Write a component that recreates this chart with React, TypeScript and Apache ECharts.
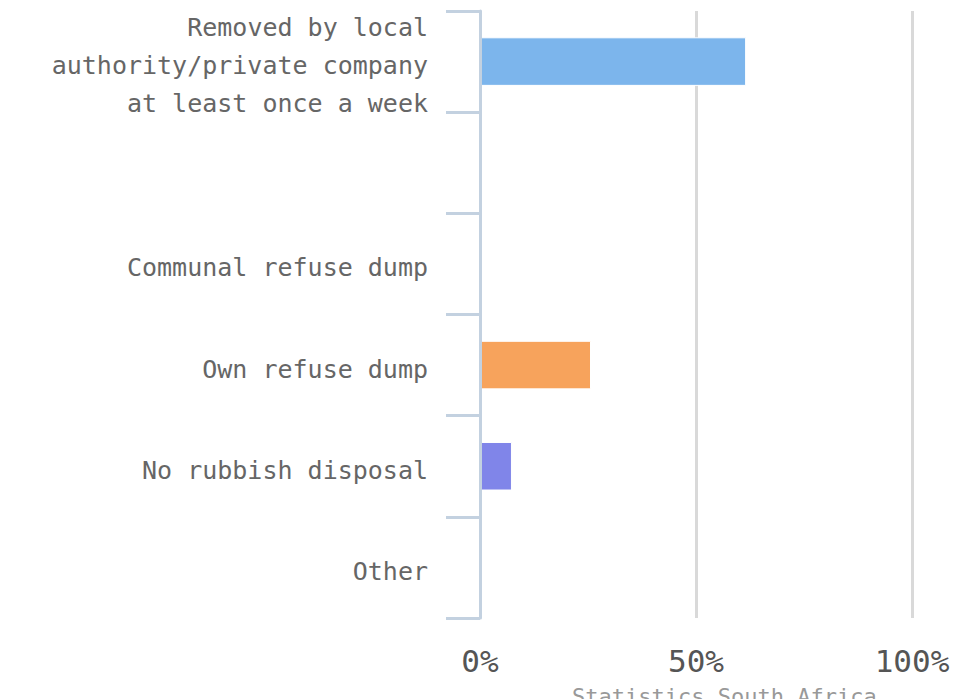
import React, { useEffect, useRef } from "react";
import * as echarts from "echarts";

const categories = [
  "Removed by local\nauthority/private company\nat least once a week",
  "",
  "Communal refuse dump",
  "Own refuse dump",
  "No rubbish disposal",
  "Other",
];
const values = [61.6, 0.2, 0.1, 25.7, 7.4, 0.2];
const colors = ["#7cb5ec", "#434348", "#90ed7d", "#f7a35c", "#8085e9", "#f15c80"];
const xTicks = [0, 50, 100];
const credit = "Statistics South Africa";

export default function App() {
  const ref = useRef<HTMLDivElement>(null);
  useEffect(() => {
    if (!ref.current) return;
    const chart = echarts.init(ref.current, undefined, { renderer: "svg" });
    const font = "'DejaVu Sans Mono', monospace";
    chart.setOption({
      animation: false,
      grid: { left: 480, top: 11, right: 53, bottom: 81, containLabel: false },
      xAxis: {
        type: "value",
        min: xTicks[0],
        max: xTicks[xTicks.length - 1],
        interval: 50,
        axisLine: { show: false },
        axisTick: { show: false },
        splitLine: { show: true, lineStyle: { color: "#d9d9d9", width: 3 } },
        axisLabel: {
          formatter: "{value}%",
          color: "#555",
          fontSize: 31,
          fontFamily: font,
          margin: 27,
        },
      },
      yAxis: {
        type: "category",
        inverse: true,
        data: categories,
        z: 10,
        axisLine: { show: true, onZero: false, lineStyle: { color: "#c3d1e0", width: 3 } },
        axisTick: { show: true, length: 34, lineStyle: { color: "#c3d1e0", width: 3 } },
        axisLabel: {
          margin: 52,
          align: "right",
          formatter: (v: string) =>
            v ? v.split("\n").map((l) => `{a|${l}}`).join("\n") : "",
          rich: {
            a: {
              color: "#666",
              fontSize: 25,
              fontFamily: font,
              lineHeight: 38,
              padding: [8, 0, 0, 0],
              align: "right",
            },
          },
        },
      },
      series: [
        {
          type: "bar",
          data: values.map((v, i) => ({ value: v, itemStyle: { color: colors[i] } })),
          barWidth: "48%",
          itemStyle: { borderColor: "#fff", borderWidth: 1 },
        },
      ],
      graphic: [
        {
          type: "text",
          left: 572,
          top: 685,
          style: { text: credit, fill: "#999", fontSize: 22, fontFamily: font },
        },
      ],
    });
    return () => chart.dispose();
  }, []);
  return <div ref={ref} style={{ width: 965, height: 699, position: "absolute", left: 0, top: 0 }} />;
}
